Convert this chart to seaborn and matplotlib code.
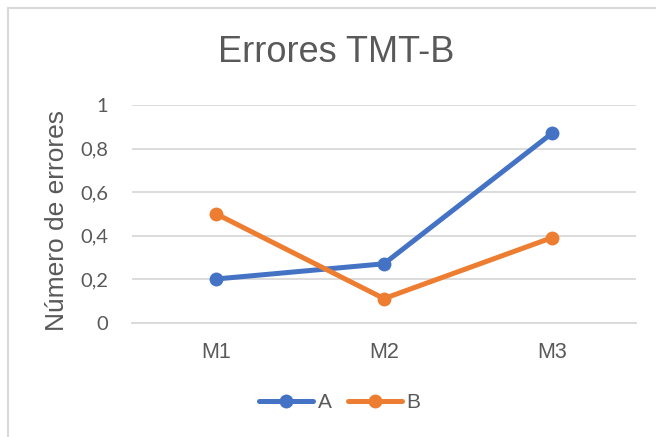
import matplotlib
matplotlib.use("Agg")
import matplotlib.pyplot as plt
import matplotlib.lines as mlines
import pandas as pd
import seaborn as sns

# data
categories = ["M1", "M2", "M3"]
serie_a = [0.20, 0.27, 0.87]
serie_b = [0.50, 0.11, 0.39]
series_names = ["A", "B"]
y_ticks = [0, 0.2, 0.4, 0.6, 0.8, 1.0]
y_tick_labels = ["0", "0,2", "0,4", "0,6", "0,8", "1"]

colors = {"A": "#4472C4", "B": "#ED7D31"}
text_grey = "#595959"
grid_grey = "#D9D9D9"

df = pd.DataFrame({
    "momento": categories * 2,
    "errores": serie_a + serie_b,
    "grupo": [series_names[0]] * 3 + [series_names[1]] * 3,
})

sns.set_style("white")
plt.rcParams["font.family"] = ["Liberation Sans", "DejaVu Sans"]

fig = plt.figure(figsize=(6.56, 4.37), dpi=100)
ax = fig.add_axes([0.2012, 0.262, 0.7683, 0.4977])

sns.lineplot(data=df, x="momento", y="errores", hue="grupo", palette=colors,
             marker="o", markersize=10, markeredgewidth=0, linewidth=3.6,
             sort=False, legend=False, ax=ax, clip_on=False)

ax.set_xlim(-0.5, 2.5)
ax.set_ylim(0, 1)
ax.set_yticks(y_ticks)
ax.set_yticklabels(y_tick_labels, family=["Lato", "DejaVu Sans"], fontsize=14.5, color=text_grey)
for lbl in ax.get_xticklabels():
    lbl.set_fontsize(15.5)
    lbl.set_color(text_grey)
ax.tick_params(axis="y", length=0, pad=17)
ax.tick_params(axis="x", length=0, pad=14)

ax.yaxis.grid(True, color=grid_grey, linewidth=1.3)
ax.set_axisbelow(True)
for side in ["top", "right", "left"]:
    ax.spines[side].set_visible(False)
ax.spines["bottom"].set_color(grid_grey)
ax.spines["bottom"].set_linewidth(1.3)

ax.set_xlabel("")
ax.set_ylabel("Número de errores", fontsize=19, color=text_grey, va="center")
ax.yaxis.set_label_coords(-0.149, 0.47)

fig.text(0.513, 0.858, "Errores TMT-B", fontsize=26, color=text_grey,
         ha="center", va="baseline")

handles = [mlines.Line2D([], [], color=colors[n], marker="o", markersize=10,
                         markeredgewidth=0, linewidth=3.6, label=n)
           for n in series_names]
fig.legend(handles=handles, loc="center", bbox_to_anchor=(0.518, 1 - 403 / 437),
           ncol=2, frameon=False, fontsize=15, labelcolor=text_grey,
           handlelength=2.6, handletextpad=0.2, columnspacing=0.8)

# chart-area border (only left and top visible in the crop)
fig.add_artist(mlines.Line2D([7.5 / 656, 7.5 / 656], [0, 1 - 8 / 437],
                             color=grid_grey, linewidth=1.5, transform=fig.transFigure))
fig.add_artist(mlines.Line2D([7.5 / 656, 1], [1 - 8 / 437, 1 - 8 / 437],
                             color=grid_grey, linewidth=1.5, transform=fig.transFigure))

fig.savefig("out.png", dpi=100)
